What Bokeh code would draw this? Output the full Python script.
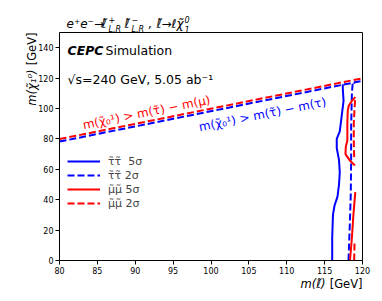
import math
from bokeh.plotting import figure
from bokeh.models import Label, Legend, LegendItem, Range1d
from bokeh.embed import file_html
from bokeh.resources import INLINE

# ---------------- data ----------------
x_lim = (80, 120)
y_lim = (0, 150)
x_ticks = [80, 85, 90, 95, 100, 105, 110, 115, 120]
y_ticks = [0, 20, 40, 60, 80, 100, 120, 140]

m_mu = 0.1057
m_tau = 1.777
edge_x = [80, 120]

# stau 5 sigma (solid blue)
tau5_x = [116.0, 116.0, 116.1, 116.3, 116.7, 116.9, 117.0, 116.9, 116.6, 116.6, 117.0, 117.3, 117.5, 117.4, 117.4]
tau5_y = [0, 15, 30, 36, 42, 50, 58, 66, 74, 80, 85, 97, 105, 113, 116]
# stau 2 sigma (dashed blue)
tau2_x = [118.15, 118.3, 118.45, 118.5, 118.5, 118.6, 118.7, 118.6, 118.95]
tau2_y = [0, 20, 43, 66, 88, 110, 116.3, 116.8, 116.8]
# smuon 5 sigma (solid red), two pieces
mu5_x = [118.35, 118.6, 118.8, 119.05, float("nan"),
         119.0, 118.3, 117.75, 117.8, 118.0, 118.0, 118.05, 118.2, 118.6, 119.05]
mu5_y = [0, 15, 30, 45, float("nan"),
         62.5, 66, 70, 75, 79, 90, 98.7, 102, 105, 107.5]
# smuon 2 sigma (dashed red), two pieces
mu2_x = [118.9, 118.95, float("nan"), 118.9, 118.85, 118.85, 118.95, 119.05]
mu2_y = [0, 12, float("nan"), 68, 79, 90, 100, 107.5]

legend_labels = ["τ̃τ̃  5σ", "τ̃τ̃ 2σ", "μ̃μ̃ 5σ", "μ̃μ̃ 2σ"]

# ---------------- layout (page pixels) ----------------
W, H = 380, 300
PX_L, PX_R, PY_T, PY_B = 59, 362, 32, 260   # where the axes box sits
FONT = "DejaVu Sans"

sx = (x_lim[1] - x_lim[0]) / (PX_R - PX_L)
sy = (y_lim[1] - y_lim[0]) / (PY_B - PY_T)


def dx(px):
    return x_lim[0] + (px - PX_L) * sx


def dy(py):
    return y_lim[0] + (PY_B - py) * sy


p = figure(width=W, height=H,
           x_range=Range1d(dx(0), dx(W)), y_range=Range1d(dy(H), dy(0)),
           output_backend="svg", toolbar_location=None, min_border=0)
p.grid.visible = False
p.outline_line_color = None
p.background_fill_color = "white"
p.border_fill_color = "white"

p.xaxis.fixed_location = y_lim[0]
p.yaxis.fixed_location = x_lim[0]
p.xaxis.bounds = x_lim
p.yaxis.bounds = y_lim
for ax, ticks in ((p.xaxis, x_ticks), (p.yaxis, y_ticks)):
    ax.ticker = ticks
    ax.major_label_text_font = FONT
    ax.major_label_text_font_size = "8px"
    ax.major_label_text_color = "black"
    ax.major_tick_out = 4
    ax.major_tick_in = 0
    ax.minor_tick_out = 0
    ax.minor_tick_in = 0
    ax.axis_line_color = "black"
    ax.axis_line_width = 1
    ax.major_tick_line_color = "black"
    ax.major_label_standoff = 2

# top and right edges of the axes box
p.line([x_lim[0], x_lim[1], x_lim[1]], [y_lim[1], y_lim[1], y_lim[0]],
       line_color="black", line_width=1)

# kinematic boundaries
red_line = [x - m_mu for x in edge_x]
blue_line = [x - m_tau for x in edge_x]
p.line(edge_x, red_line, line_color="red", line_width=2, line_dash="7 3")
p.line(edge_x, blue_line, line_color="blue", line_width=2, line_dash="7 3")

r1 = p.line(tau5_x, tau5_y, line_color="blue", line_width=2)
r2 = p.line(tau2_x, tau2_y, line_color="blue", line_width=2, line_dash="7 3")
r3 = p.line(mu5_x, mu5_y, line_color="red", line_width=2)
r4 = p.line(mu2_x, mu2_y, line_color="red", line_width=2, line_dash="7 3")

legend = Legend(items=[LegendItem(label=l, renderers=[r]) for l, r in
                       zip(legend_labels, [r1, r2, r3, r4])],
                location=(67, H - 210), padding=0, margin=0, spacing=0,
                glyph_width=33, glyph_height=14, label_height=14,
                label_standoff=8, label_text_font=FONT,
                label_text_font_size="11px",
                border_line_alpha=0, background_fill_alpha=0)
p.add_layout(legend)


def lab(text, px, py, size, align="left", style="normal", color="black", angle=0.0):
    p.add_layout(Label(x=dx(px), y=dy(py), text=text, text_font=FONT,
                       text_font_size=f"{size}px", text_align=align,
                       text_baseline="middle", text_font_style=style,
                       text_color=color, angle=angle))


# title
lab("e⁺e⁻→", 66, 23, 12, style="italic")
lab("ℓ̃", 101, 23, 12, style="italic")
lab("+", 108, 19, 8, style="italic")
lab("L,R", 108, 29, 8, style="italic")
lab("ℓ̃", 124, 23, 12, style="italic")
lab("−", 131, 19, 8, style="italic")
lab("L,R", 131, 29, 8, style="italic")
lab(",", 148, 23, 12, style="italic")
lab("ℓ̃→ℓχ̃", 156, 23, 12, style="italic")
lab("0", 184, 19, 8, style="italic")
lab("1", 184, 29, 8, style="italic")

lab("CEPC", 67, 50, 12.5, style="bold italic")
lab("Simulation", 105, 50, 12.5)
lab("√s=240 GeV, 5.05 ab⁻¹", 67, 79, 12.5)

ang = math.radians(11.5)
lab("m(χ̃₀¹) > m(τ̃) − m(μ)", 146, 112, 12, align="center", color="red", angle=ang)
lab("m(χ̃₀¹) > m(τ̃) − m(τ)", 262, 114, 12, align="center", color="blue", angle=ang)

# axis labels
lab("[GeV]", 362, 283, 11.5, align="right")
lab("m(ℓ̃)", 325, 283, 11.5, align="right", style="italic")
lab("[GeV]", 31, 32, 11.5, align="right", angle=math.pi / 2)
lab("m(χ̃₁⁰)", 31, 69, 11.5, align="right", style="italic", angle=math.pi / 2)

open("out.html", "w").write(file_html(p, INLINE))
